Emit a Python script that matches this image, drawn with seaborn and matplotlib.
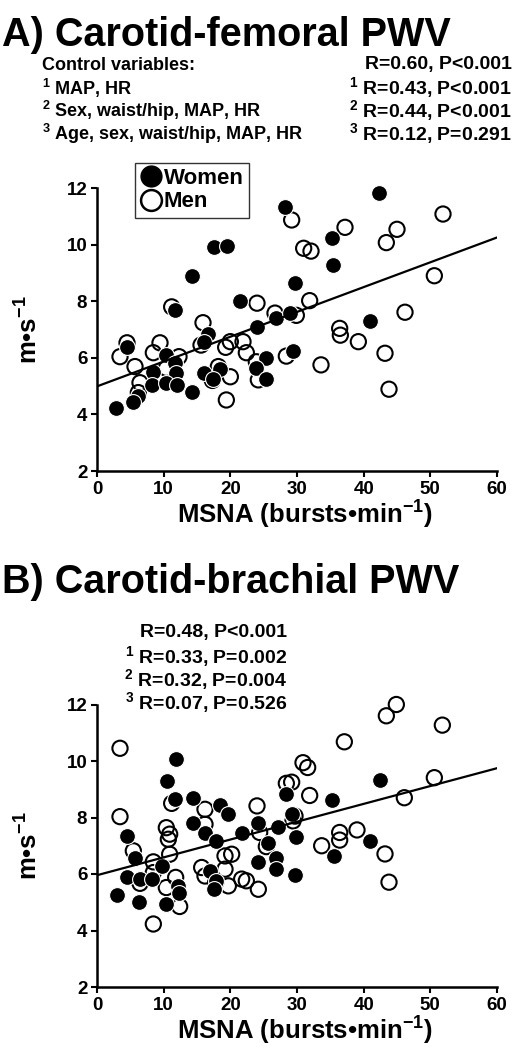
import numpy as np
import pandas as pd
import seaborn as sns
import matplotlib
matplotlib.use("Agg")
import matplotlib.pyplot as plt
from matplotlib.lines import Line2D

# ---------------- data ----------------
# Panel A: carotid-femoral PWV
a_women_msna = [28.2, 17.5, 19.5, 14.3, 29.7, 21.5, 11.7, 24.0, 26.9, 28.9, 16.7, 16.0,
                4.45, 10.3, 11.7, 8.45, 11.9, 8.2, 10.3, 12.0, 14.2, 6.2, 5.35, 2.85,
                16.1, 18.4, 17.4, 25.4, 23.9, 25.3, 29.4, 42.3, 35.2, 35.4, 40.9]
a_women_pwv = [11.32, 9.93, 9.95, 8.9, 8.63, 8.02, 7.69, 7.08, 7.4, 7.57, 6.84, 6.55,
               6.39, 6.11, 5.83, 5.51, 5.47, 5.04, 5.12, 5.04, 4.80, 4.65, 4.45, 4.21,
               5.47, 5.59, 5.24, 5.98, 5.63, 5.24, 6.25, 11.81, 10.25, 9.28, 7.31]
a_men_msna = [29.2, 31.0, 32.1, 24.0, 31.9, 11.2, 15.9, 26.7, 29.9, 15.6,
              3.45, 4.5, 5.7, 9.45, 8.45, 12.3, 10.4, 6.45, 6.2, 20.0, 19.3, 21.9,
              22.4, 18.2, 20.0, 17.3, 19.4, 24.2, 23.9, 28.4, 37.2, 45.0, 43.4, 50.6,
              51.9, 46.2, 36.4, 36.5, 39.2, 43.2, 33.6, 43.8]
a_men_pwv = [10.87, 9.87, 9.77, 7.93, 8.02, 7.8, 7.24, 7.58, 7.5, 6.45,
             6.04, 6.53, 5.69, 6.53, 6.18, 6.04, 5.63, 5.12, 4.77, 6.57, 6.37, 6.57,
             6.18, 5.69, 5.33, 5.2, 4.51, 5.22, 5.86, 6.06, 10.61, 10.54, 10.07, 8.9,
             11.08, 7.61, 7.04, 6.8, 6.57, 6.16, 5.75, 4.89]

# Panel B: carotid-brachial PWV
b_women_msna = [11.8, 10.45, 11.7, 14.4, 18.4, 19.7, 28.3, 29.3, 14.4, 24.2, 27.2,
                16.2, 17.8, 21.7, 29.9, 25.7, 26.9, 26.9, 24.2, 29.7, 4.55, 5.7,
                9.7, 17.0, 17.9, 17.5, 4.55, 6.45, 8.2, 12.2, 12.3, 10.4, 6.35,
                3.05, 42.5, 35.3, 35.6, 41.0]
b_women_pwv = [10.06, 9.29, 8.64, 8.70, 8.43, 8.11, 8.82, 8.11, 7.80, 7.79, 7.66,
               7.44, 7.17, 7.44, 7.30, 7.11, 6.58, 6.19, 6.41, 5.95, 7.35, 6.55,
               6.29, 6.11, 5.76, 5.46, 5.91, 5.84, 5.82, 5.58, 5.32, 4.93, 5.01,
               5.25, 9.33, 8.62, 6.64, 7.18]
b_men_msna = [3.45, 11.2, 16.2, 24.0, 30.9, 31.6, 28.4, 29.2, 31.9, 29.7, 3.45,
              10.4, 10.9, 10.7, 16.2, 24.4, 29.4, 25.4, 5.45, 8.45, 10.9, 15.7,
              19.2, 20.2, 19.2, 16.2, 17.8, 19.7, 21.7, 22.4, 24.2, 6.45, 8.45,
              10.4, 11.8, 12.4, 8.45, 44.9, 43.4, 51.8, 37.1, 50.6, 46.1, 36.4,
              36.4, 39.0, 33.7, 43.2, 43.8]
b_men_pwv = [10.45, 8.5, 8.29, 8.41, 9.94, 9.77, 9.21, 9.25, 8.78, 8.05, 8.03,
             7.64, 7.41, 7.23, 7.76, 7.47, 7.88, 6.97, 6.82, 6.43, 6.70, 6.23,
             6.64, 6.70, 6.17, 5.93, 5.70, 5.58, 5.82, 5.76, 5.46, 5.67, 6.05,
             5.52, 5.88, 4.85, 4.23, 12.0, 11.6, 11.27, 10.68, 9.41, 8.70, 7.47,
             7.20, 7.56, 7.00, 6.71, 5.71]

x_ticks = [0, 10, 20, 30, 40, 50, 60]
y_ticks = [2, 4, 6, 8, 10, 12]

title_a = "A) Carotid-femoral PWV"
title_b = "B) Carotid-brachial PWV"
control_lines = ["Control variables:",
                 r"$^{1}$ MAP, HR",
                 r"$^{2}$ Sex, waist/hip, MAP, HR",
                 r"$^{3}$ Age, sex, waist/hip, MAP, HR"]
stats_a = ["R=0.60, P<0.001",
           r"$^{1}$ R=0.43, P<0.001",
           r"$^{2}$ R=0.44, P<0.001",
           r"$^{3}$ R=0.12, P=0.291"]
stats_b = ["R=0.48, P<0.001",
           r"$^{1}$ R=0.33, P=0.002",
           r"$^{2}$ R=0.32, P=0.004",
           r"$^{3}$ R=0.07, P=0.526"]

# ---------------- style ----------------
sns.set_style("ticks")
plt.rcParams["font.family"] = ["Liberation Sans", "DejaVu Sans"]
plt.rcParams["font.weight"] = "bold"
plt.rcParams["mathtext.fontset"] = "custom"
plt.rcParams["mathtext.rm"] = "Liberation Sans:bold"
plt.rcParams["mathtext.bf"] = "Liberation Sans:bold"
plt.rcParams["mathtext.default"] = "rm"
for k in ["text.color", "axes.labelcolor", "xtick.color", "ytick.color",
          "axes.edgecolor"]:
    plt.rcParams[k] = "black"

W, H = 519, 1050
fig = plt.figure(figsize=(W / 100, H / 100), dpi=100)

def make_df(wx, wy, mx, my):
    return (pd.DataFrame({"msna": wx, "pwv": wy}),
            pd.DataFrame({"msna": mx, "pwv": my}))

def draw_panel(ax, wx, wy, mx, my, legend=False):
    dw, dm = make_df(wx, wy, mx, my)
    ax.set_xlim(0, 60)
    ax.set_ylim(2, 12)
    sns.scatterplot(data=dm, x="msna", y="pwv", ax=ax, s=120, marker="o",
                    facecolor="none", edgecolor="black", linewidth=1.5,
                    legend=False, zorder=3, clip_on=False)
    sns.scatterplot(data=dw, x="msna", y="pwv", ax=ax, s=130, marker="o",
                    color="black", edgecolor="white", linewidth=0.8,
                    legend=False, zorder=4, clip_on=False)
    allx = list(wx) + list(mx)
    ally = list(wy) + list(my)
    sns.regplot(x=allx, y=ally, ax=ax, scatter=False, ci=None, truncate=False,
                color="black", line_kws=dict(lw=1.6, zorder=5))
    ax.set_xlim(0, 60)
    ax.set_ylim(2, 12)
    ax.set_xticks(x_ticks)
    ax.set_yticks(y_ticks)
    ax.tick_params(axis="both", direction="out", length=4, width=1.5,
                   labelsize=13.5, pad=3, color="black", labelcolor="black")
    for lab in ax.get_xticklabels() + ax.get_yticklabels():
        lab.set_fontweight("bold")
    for side in ["top", "right"]:
        ax.spines[side].set_visible(False)
    for side in ["left", "bottom"]:
        ax.spines[side].set_linewidth(1.8)
        ax.spines[side].set_color("black")
    ax.set_xlabel(r"MSNA (bursts•min$^{-1}$)", fontsize=18.5, fontweight="bold")
    ax.set_ylabel(r"m•s$^{-1}$", fontsize=18.5, fontweight="bold")
    ax.xaxis.set_label_coords(0.52, -0.1)
    ax.yaxis.set_label_coords(-0.135, 0.5)
    if legend:
        handles = [Line2D([], [], marker="o", ls="", markersize=15,
                          markerfacecolor="black", markeredgecolor="black"),
                   Line2D([], [], marker="o", ls="", markersize=15,
                          markerfacecolor="white", markeredgecolor="black",
                          markeredgewidth=1.8)]
        leg = ax.legend(handles, ["Women", "Men"], loc="upper left",
                        bbox_to_anchor=(0.095, 1.09), frameon=True, fancybox=False,
                        edgecolor="black", handletextpad=0.15, borderpad=0.25,
                        labelspacing=0.1, handlelength=0.9, borderaxespad=0,
                        prop=dict(size=16, weight="bold"))
        leg.get_frame().set_linewidth(1.0)

# axes positions (pixels -> fractions)
left, right = 97 / W, 497 / W
ax_a = fig.add_axes([left, 1 - 471 / H, right - left, (471 - 188) / H])
ax_b = fig.add_axes([left, 1 - 987 / H, right - left, (987 - 704.5) / H])

draw_panel(ax_a, a_women_msna, a_women_pwv, a_men_msna, a_men_pwv, legend=True)
draw_panel(ax_b, b_women_msna, b_women_pwv, b_men_msna, b_men_pwv)

# titles
fig.text(2 / W, 1 - 35 / H, title_a, fontsize=28.5, fontweight="bold",
         ha="left", va="center")
fig.text(2 / W, 1 - 582 / H, title_b, fontsize=28.5, fontweight="bold",
         ha="left", va="center")

# control variable block
ys_a = [65, 88, 111, 134]
for yy, t in zip(ys_a, control_lines):
    fig.text(42 / W, 1 - yy / H, t, fontsize=13.0, fontweight="bold",
             ha="left", va="center")
for yy, t in zip(ys_a, stats_a):
    fig.text(512 / W, 1 - yy / H, t, fontsize=14.0, fontweight="bold",
             ha="right", va="center")

ys_b = [633, 657, 680, 703]
for yy, t in zip(ys_b, stats_b):
    fig.text(287 / W, 1 - yy / H, t, fontsize=14.0, fontweight="bold",
             ha="right", va="center")

fig.savefig("out.png", dpi=100, facecolor="white")
